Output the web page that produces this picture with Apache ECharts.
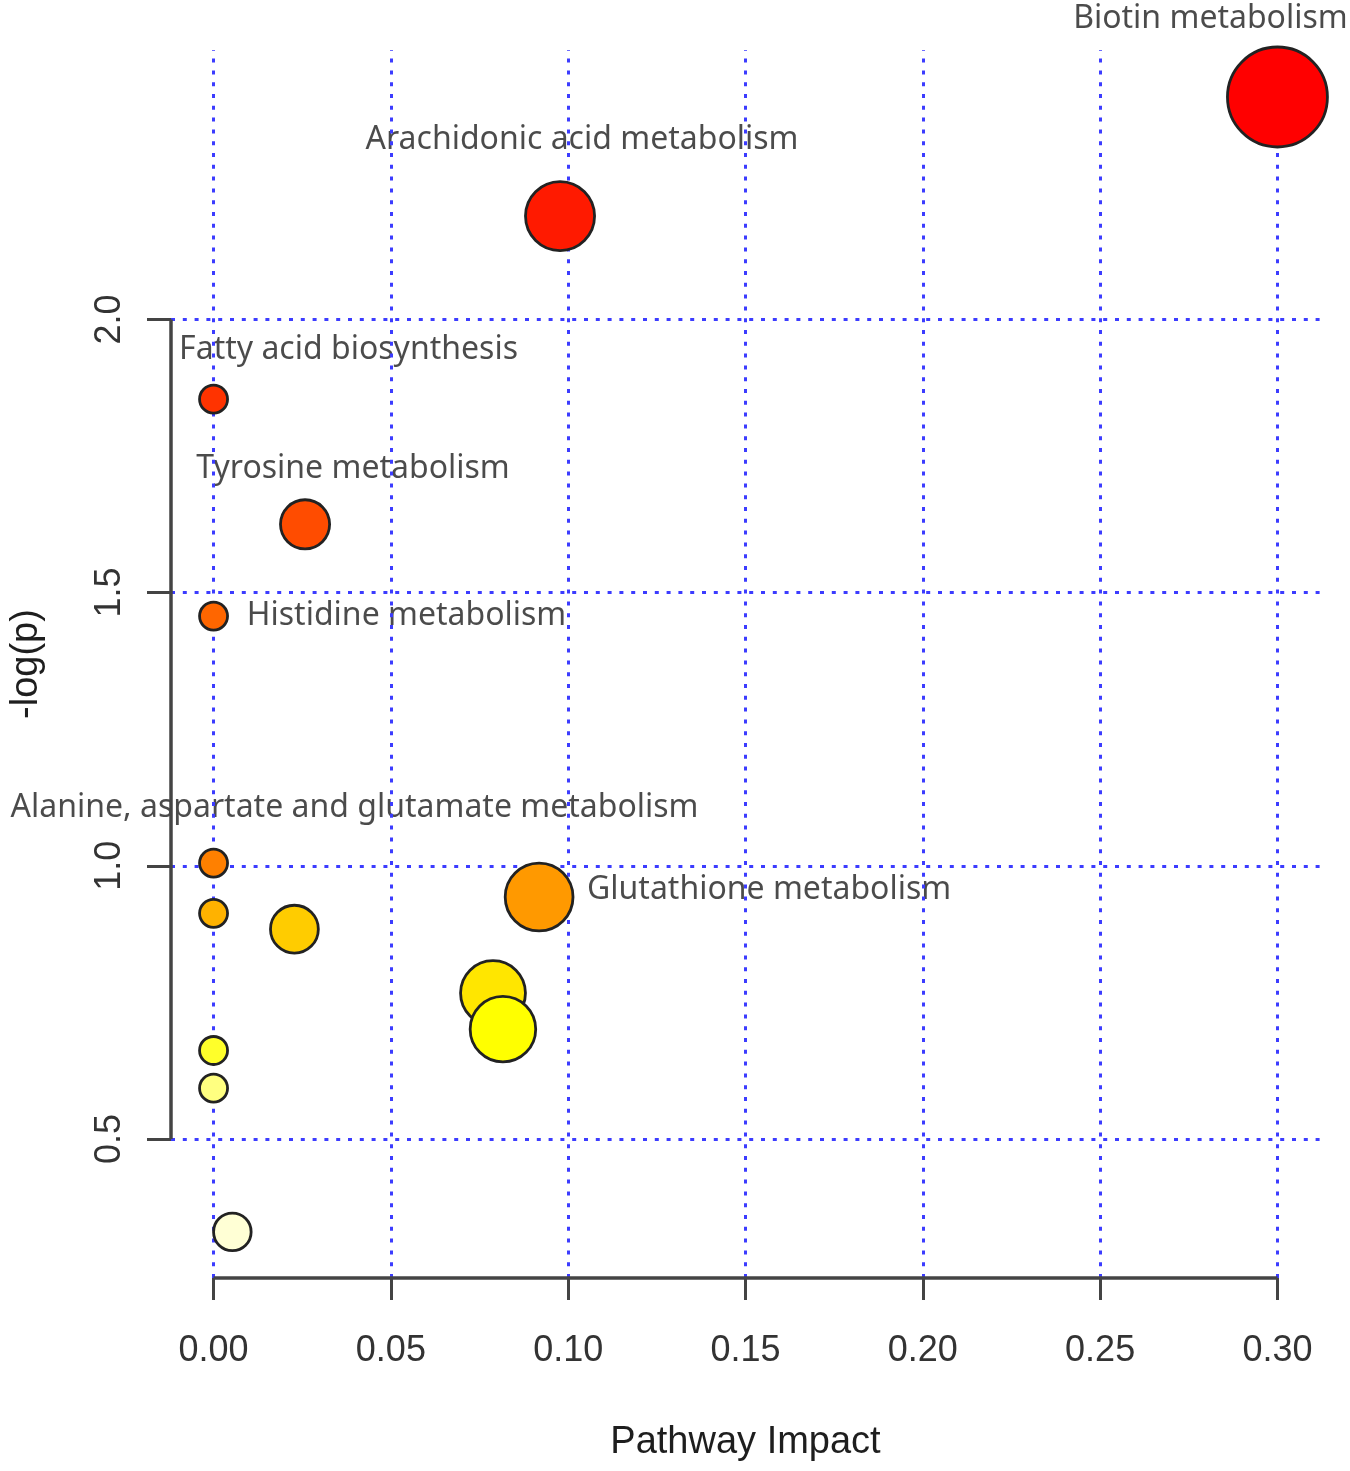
<!DOCTYPE html>
<html>
<head>
<meta charset="utf-8">
<script src="https://cdn.jsdelivr.net/npm/echarts@6/dist/echarts.min.js"></script>
<style>
  html, body { margin: 0; padding: 0; background: #fff; }
  #chart { width: 1350px; height: 1471px; }
</style>
</head>
<body>
<div id="chart"></div>
<script>
// pathway impact plot (MetaboAnalyst style)
var pathway = ['Biotin metabolism', 'Arachidonic acid metabolism', 'Fatty acid biosynthesis', 'Tyrosine metabolism',
  'Histidine metabolism', 'Alanine, aspartate and glutamate metabolism', 'Glutathione metabolism',
  '', '', '', '', '', '', ''];
var impact = [0.300, 0.0977, 0, 0.0258, 0, 0, 0.0918, 0, 0.0228, 0.0788, 0.0816, 0, 0, 0.0053];
var logP = [2.407, 2.189, 1.854, 1.625, 1.457, 1.005, 0.943, 0.913, 0.884, 0.767, 0.701, 0.662, 0.593, 0.330];
var xTicks = [0, 0.05, 0.10, 0.15, 0.20, 0.25, 0.30];
var yTicks = [0.5, 1.0, 1.5, 2.0];

(function () {
  var el = document.getElementById('chart');
  var chart = echarts.init(el, null, { renderer: 'canvas' });

  // R style axis ranges: data range padded by 4%
  var xMin = -0.012, xMax = 0.312;
  var yMin = 0.2456, yMax = 2.493;

  var labelFont = 'Noto Sans';
  var axisFont = 'Liberation Sans';
  var ink = '#1e1e1e';
  var axisInk = '#444';
  var gridBlue = '#3c3cff';

  // label offsets from the point centre
  var labelPos = {
    'Biotin metabolism': [-67, -78],
    'Arachidonic acid metabolism': [22, -76],
    'Fatty acid biosynthesis': [135, -49],
    'Tyrosine metabolism': [48, -55],
    'Histidine metabolism': [193, 0],
    'Alanine, aspartate and glutamate metabolism': [141, -55],
    'Glutathione metabolism': [230, -7]
  };

  // R heat.colors(n)
  function heatColors(n) {
    var j = Math.floor(n / 4), i = n - j, out = [];
    function hex(v) { return ('0' + Math.round(v).toString(16)).slice(-2); }
    for (var k = 0; k < i; k++) {
      var h = i > 1 ? k / (i - 1) / 6 : 0;
      out.push('#ff' + hex(255 * h * 6) + '00');
    }
    for (var m = 0; m < j; m++) {
      var s = j > 1 ? (1 - 1 / (2 * j)) - m * ((1 - 1 / j) / (j - 1)) : 0.5;
      out.push('#ffff' + hex(255 * (1 - s)));
    }
    return out;
  }
  var pal = heatColors(logP.length);
  var order = logP.map(function (v, i) { return i; }).sort(function (a, b) { return logP[b] - logP[a]; });
  var colorOf = [];
  order.forEach(function (idx, rank) { colorOf[idx] = pal[rank]; });

  function sizeOf(v) { return 2 * (14 + 65.7 * Math.sqrt(v)); }

  var bubbles = impact.map(function (x, i) {
    return { name: pathway[i], value: [x, logP[i]], symbolSize: sizeOf(x), itemStyle: { color: colorOf[i] } };
  });
  var labels = [];
  impact.forEach(function (x, i) {
    if (!pathway[i]) return;
    var off = labelPos[pathway[i]] || [0, -30];
    labels.push({ name: pathway[i], value: [x, logP[i]], label: { offset: off } });
  });

  var gridLineStyle = { color: gridBlue, width: 3, type: [4, 7.8] };
  var gridLines = xTicks.map(function (v) { return { xAxis: v }; })
    .concat(yTicks.map(function (v) { return { yAxis: v }; }));
  var axisLines = [
    [{ coord: [xTicks[0], yMin] }, { coord: [xTicks[xTicks.length - 1], yMin] }],
    [{ coord: [xMin, yTicks[0]] }, { coord: [xMin, yTicks[yTicks.length - 1]] }]
  ];

  chart.setOption({
    animation: false,
    backgroundColor: '#fff',
    grid: { left: 169, right: 30, top: 50, bottom: 193 },
    xAxis: {
      type: 'value', min: xMin, max: xMax,
      name: 'Pathway Impact', nameLocation: 'middle', nameGap: 146,
      nameTextStyle: { fontFamily: axisFont, fontSize: 38, color: ink },
      axisLine: { show: false, onZero: false },
      axisTick: { show: true, customValues: xTicks, length: 22, lineStyle: { color: axisInk, width: 3 } },
      axisLabel: { customValues: xTicks, margin: 55, fontFamily: axisFont, fontSize: 36, color: '#333',
        formatter: function (v) { return v.toFixed(2); } },
      splitLine: { show: false }
    },
    yAxis: {
      type: 'value', min: yMin, max: yMax,
      name: '-log(p)', nameLocation: 'middle', nameRotate: 90, nameGap: 125,
      nameTextStyle: { fontFamily: axisFont, fontSize: 38, color: ink },
      axisLine: { show: false, onZero: false },
      axisTick: { show: true, customValues: yTicks, length: 24, lineStyle: { color: axisInk, width: 3 } },
      axisLabel: { customValues: yTicks, rotate: 90, margin: 43, fontFamily: axisFont, fontSize: 36, color: '#333',
        formatter: function (v) { return v.toFixed(1); } },
      splitLine: { show: false }
    },
    series: [
      {
        name: 'labels', type: 'scatter', z: 1, silent: true,
        symbolSize: 0, data: labels,
        label: { show: true, position: 'inside', formatter: '{b}', fontFamily: labelFont, fontSize: 32, color: ink,
          align: 'center', verticalAlign: 'middle' },
        markLine: {
          silent: true, symbol: 'none', z: 5, animation: false,
          label: { show: false },
          lineStyle: gridLineStyle,
          data: gridLines
        }
      },
      {
        name: 'axes', type: 'scatter', z: 6, silent: true, symbolSize: 0, data: [],
        markLine: {
          silent: true, symbol: 'none', z: 6, animation: false,
          label: { show: false },
          lineStyle: { color: axisInk, width: 3.5, type: 'solid' },
          data: axisLines
        }
      },
      {
        name: 'pathways', type: 'scatter', z: 10,
        data: bubbles,
        itemStyle: { borderColor: '#222', borderWidth: 2.8, opacity: 1 }
      }
    ]
  });
  window.addEventListener('resize', function () { chart.resize(); });
})();
</script>
</body>
</html>
